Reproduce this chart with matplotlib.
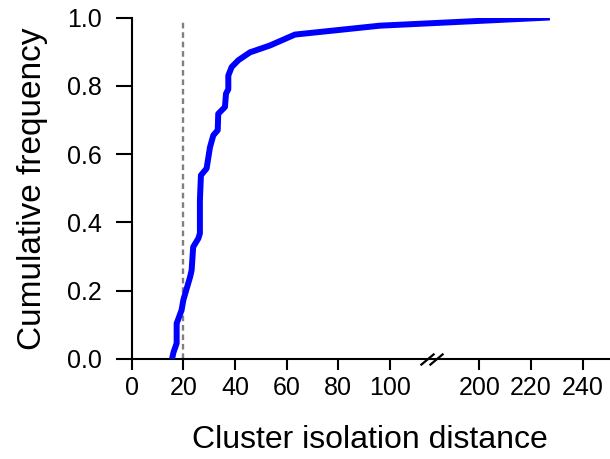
import numpy as np
import matplotlib
matplotlib.use("Agg")
import matplotlib.pyplot as plt

plt.rcParams['font.family'] = ['Liberation Sans', 'DejaVu Sans']

# Data
isolation_distance = [15.6, 16.2, 17.4, 17.4, 19.3, 20.0, 22.6, 23.2, 23.8, 25.8, 26.4, 26.4,
                      26.8, 29.0, 30.3, 31.6, 33.3, 33.5, 36.1, 36.5, 37.4, 37.4, 38.7, 41.3,
                      45.8, 53.5, 63.2, 96.0, 227.3]
cumulative_freq = [0.0, 0.02, 0.046, 0.104, 0.143, 0.173, 0.24, 0.26, 0.328, 0.353, 0.368, 0.465,
                   0.538, 0.558, 0.62, 0.655, 0.67, 0.718, 0.738, 0.777, 0.79, 0.83, 0.855, 0.875,
                   0.898, 0.918, 0.95, 0.976, 1.0]
threshold = 20
x_ticks = [0, 20, 40, 60, 80, 100, 200, 220, 240]
y_ticks = [0.0, 0.2, 0.4, 0.6, 0.8, 1.0]

# Broken axis: values between BREAK_LO and BREAK_HI are compressed away
BREAK_LO = 116.0
BREAK_HI = 181.5
GAP = BREAK_HI - BREAK_LO
EPS = 1e-3


def fwd(v):
    v = np.asarray(v, dtype=float)
    return np.where(v <= BREAK_LO, v,
                    np.where(v >= BREAK_HI, v - GAP + EPS * GAP,
                             BREAK_LO + (v - BREAK_LO) * EPS))


def inv(u):
    u = np.asarray(u, dtype=float)
    lim = BREAK_LO + EPS * GAP
    return np.where(u <= BREAK_LO, u,
                    np.where(u >= lim, u + GAP - EPS * GAP,
                             BREAK_LO + (u - BREAK_LO) / EPS))


fig = plt.figure(figsize=(6.1, 4.59), dpi=100)
ax = fig.add_axes([131.7 / 610, (459 - 359) / 459, (609 - 131.7) / 610, (359 - 17.5) / 459])
ax.set_xscale('function', functions=(fwd, inv))
ax.set_xlim(0, 250.2)
ax.set_ylim(0, 1.0)

ax.plot([threshold, threshold], [0, 0.99], color='#808080', lw=1.7, dashes=(2.4, 1.6), zorder=2)
ax.plot(isolation_distance, cumulative_freq, color='#0000ff', lw=4.3, solid_joinstyle='round',
        solid_capstyle='butt', zorder=3)

ax.set_xticks(x_ticks)
ax.set_xticklabels([str(t) for t in x_ticks])
ax.set_yticks(y_ticks)
ax.set_yticklabels([f"{t:.1f}" for t in y_ticks])
ax.xaxis.set_minor_locator(matplotlib.ticker.NullLocator())

for s in ['top', 'right']:
    ax.spines[s].set_visible(False)
for s in ['left', 'bottom']:
    ax.spines[s].set_linewidth(1.5)
    ax.spines[s].set_color('black')

ax.tick_params(axis='x', length=8, width=1.5, labelsize=18, pad=4, direction='out')
ax.tick_params(axis='y', length=11.5, width=1.5, labelsize=18, pad=10, direction='out')

ax.set_xlabel('Cluster isolation distance', fontsize=23, labelpad=18)
ax.set_ylabel('Cumulative frequency', fontsize=24, labelpad=14)

# Break marks on the x axis
slash = [(-0.6, -0.5), (0.6, 0.5)]
ax.plot([BREAK_LO - 1.8, BREAK_HI + 1.6], [0, 0], linestyle='none', marker=slash,
        markersize=10, markeredgewidth=1.6, color='black', clip_on=False, zorder=5)

fig.savefig('out.png', dpi=100)
